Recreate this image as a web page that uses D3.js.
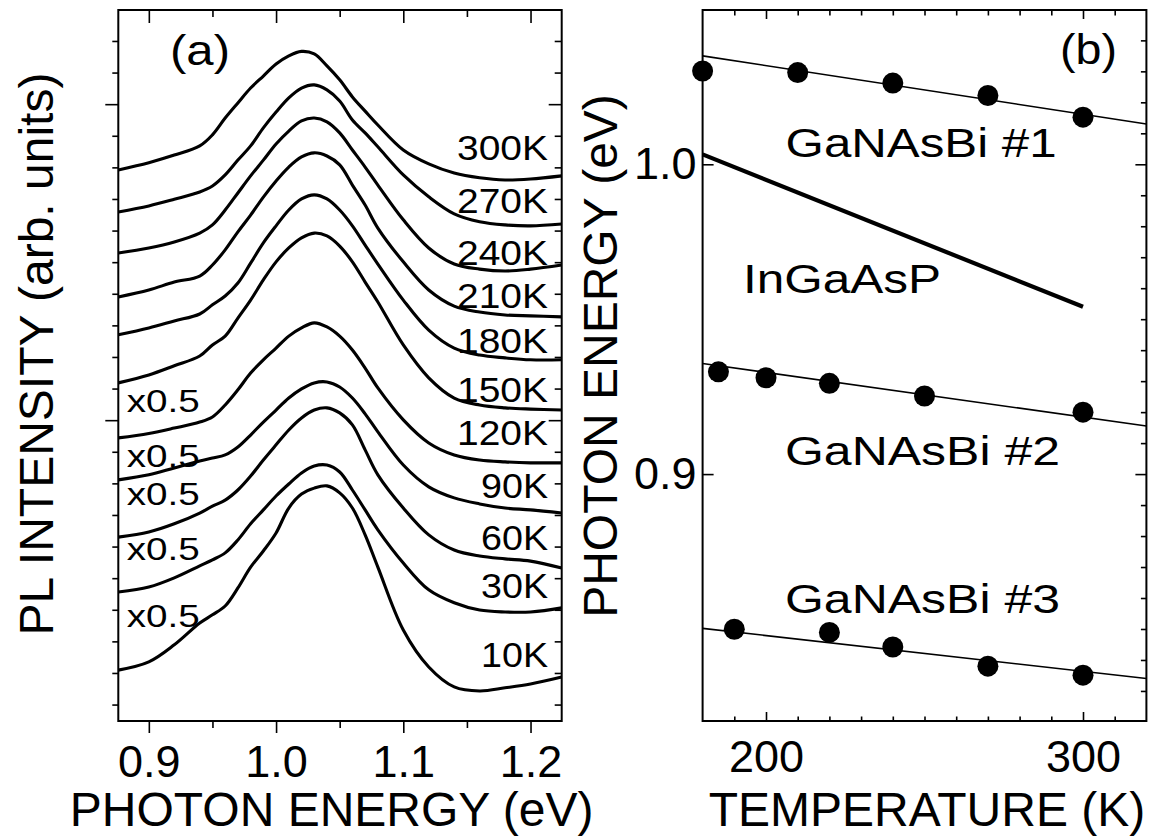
<!DOCTYPE html>
<html>
<head>
<meta charset="utf-8">
<script src="https://cdn.jsdelivr.net/npm/d3@7"></script>
<style>
  body { margin: 0; background: #fff; }
  text { font-family: "Liberation Sans", Arial, Helvetica, sans-serif; fill: #000; }
</style>
</head>
<body>
<svg id="chart" width="1159" height="837"></svg>
<script>
// (a) PL spectra, offset for clarity (arb. units)
var energy = [0.876, 0.90, 0.92, 0.94, 0.95, 0.96, 0.97, 0.98, 0.99, 1.00, 1.01, 1.02, 1.03,
              1.04, 1.05, 1.06, 1.07, 1.08, 1.10, 1.12, 1.14, 1.16, 1.18, 1.20, 1.2245];
var pl300K = [16.92,17.15,17.39,17.68,18.03,18.56,19.04,19.51,19.89,20.27,20.53,20.67,20.59,20.21,19.77,19.23,18.78,18.34,17.55,17.11,16.82,16.67,16.60,16.63,16.73];
var pl270K = [15.59,15.78,15.99,16.22,16.41,16.76,17.23,17.68,18.25,18.75,19.20,19.51,19.61,19.45,19.10,18.50,18.09,17.65,16.76,16.07,15.53,15.28,15.18,15.15,15.21];
var pl240K = [14.29,14.45,14.64,14.92,15.18,15.65,16.19,16.73,17.23,17.74,18.15,18.47,18.56,18.44,18.09,17.55,17.01,16.44,15.34,14.45,13.94,13.78,13.72,13.78,13.91];
var pl210K = [12.90,13.12,13.37,13.56,13.91,14.39,14.96,15.49,16.06,16.57,17.01,17.33,17.46,17.36,17.08,16.44,15.81,15.08,14.01,13.12,12.61,12.42,12.33,12.30,12.27];
var pl180K = [11.70,11.92,12.14,12.36,12.65,12.93,13.34,13.97,14.61,15.15,15.65,16.00,16.13,16.00,15.65,15.15,14.54,13.94,12.80,11.85,11.28,11.06,10.97,10.91,10.91];
var pl150K = [10.18,10.43,10.72,11.03,11.38,11.66,12.23,12.80,13.44,14.01,14.45,14.77,14.92,14.83,14.51,14.01,13.37,12.74,11.38,10.34,9.70,9.48,9.39,9.35,9.32];
var pl120K = [8.44,8.58,8.75,8.94,9.10,9.48,9.96,10.49,10.91,11.28,11.66,11.92,12.08,11.95,11.66,11.22,10.65,10.02,9.01,8.28,7.90,7.74,7.68,7.65,7.65];
var pl90K  = [7.11,7.27,7.49,7.71,7.80,7.90,8.15,8.53,8.94,9.32,9.70,9.99,10.18,10.21,10.05,9.70,9.20,8.63,7.58,6.89,6.54,6.35,6.22,6.16,6.06];
var pl60K  = [5.30,5.46,5.72,6.06,6.28,6.47,6.79,7.23,7.74,8.22,8.69,9.07,9.32,9.39,9.23,8.85,8.06,7.27,6.22,5.37,4.89,4.70,4.61,4.54,4.32];
var pl30K  = [3.56,3.72,4.01,4.39,4.58,4.80,5.21,5.72,6.16,6.60,6.98,7.33,7.55,7.58,7.36,6.79,6.16,5.53,4.48,3.63,3.22,2.99,2.93,2.93,3.06];
var pl10K  = [1.09,1.35,1.89,2.58,2.84,3.12,3.69,4.35,4.86,5.43,6.22,6.66,6.85,6.92,6.70,6.22,5.37,4.35,2.36,1.19,0.56,0.43,0.53,0.65,0.87];
var spectra = [pl300K, pl270K, pl240K, pl210K, pl180K, pl150K, pl120K, pl90K, pl60K, pl30K, pl10K];
var tempLabels = ['300K','270K','240K','210K','180K','150K','120K','90K','60K','30K','10K'];
var halved = [false,false,false,false,false,false,true,true,true,true,true];

var energyTicks = [0.9, 1.0, 1.1, 1.2];
var energyMinor = [0.95, 1.05, 1.15];

// (b) peak energy vs temperature
var tempB1 = [180, 210, 240, 270, 300];
var peakB1 = [1.0301, 1.0296, 1.0262, 1.0222, 1.0152];
var tempB2 = [185, 200, 220, 250, 300];
var peakB2 = [0.9330, 0.9311, 0.9293, 0.9252, 0.9200];
var tempB3 = [190, 220, 240, 270, 300];
var peakB3 = [0.8499, 0.8489, 0.8442, 0.8380, 0.8351];
var fitT = [180, 320];
var fitB1 = [1.0350, 1.0130];
var fitB2 = [0.9357, 0.9155];
var fitB3 = [0.8502, 0.8340];
var inGaAsPT = [180, 300];
var inGaAsPE = [1.0032, 0.9540];
var sampleNames = ['GaNAsBi #1', 'InGaAsP', 'GaNAsBi #2', 'GaNAsBi #3'];
var tempTicks = [200, 300];
var peakTicks = [0.9, 1.0];

var svg = d3.select('#chart');
var plotTop = 10, plotBottom = 721;

var xA = d3.scaleLinear().domain([0.876, 1.2245]).range([118.3, 561.7]);
var yA = d3.scaleLinear().domain([-0.52, 21.98]).range([plotBottom, plotTop]);
var xB = d3.scaleLinear().domain([180, 320]).range([702.6, 1146.4]);
var yB = d3.scaleLinear().domain([0.8203, 1.0498]).range([plotBottom, plotTop]);

function drawAxis(axis, tx, ty, fontSize) {
  var g = svg.append('g')
    .attr('transform', 'translate(' + tx + ',' + ty + ')')
    .call(axis);
  g.select('.domain').remove();
  g.selectAll('.tick line').attr('stroke', '#000').attr('stroke-width', 1.6);
  g.selectAll('.tick text')
    .style('font-family', '"Liberation Sans", Arial, sans-serif')
    .style('font-size', (fontSize || 45) + 'px')
    .attr('fill', '#000');
  return g;
}

function frame(x) {
  svg.append('rect')
    .attr('x', x.range()[0]).attr('y', plotTop)
    .attr('width', x.range()[1] - x.range()[0]).attr('height', plotBottom - plotTop)
    .attr('fill', 'none').attr('stroke', '#000').attr('stroke-width', 2);
}

function label(txt, x, y, size, len, anchor) {
  var t = svg.append('text')
    .attr('x', x).attr('y', y)
    .style('font-size', size + 'px')
    .attr('text-anchor', anchor || 'start')
    .text(txt);
  if (len) t.attr('textLength', len).attr('lengthAdjust', 'spacingAndGlyphs');
  return t;
}

// ---------- panel (a) ----------
var minorA = d3.range(0, 22).filter(function(v) { return v != 9 && v != 19; });

drawAxis(d3.axisBottom(xA).tickValues(energyTicks).tickSize(12).tickPadding(12)
  .tickFormat(d3.format('.1f')), 0, plotBottom, 45);
drawAxis(d3.axisBottom(xA).tickValues(energyMinor).tickSize(7).tickFormat(''), 0, plotBottom);
drawAxis(d3.axisTop(xA).tickValues(energyTicks).tickSize(-13).tickFormat(''), 0, plotTop);
drawAxis(d3.axisTop(xA).tickValues(energyMinor).tickSize(-7).tickFormat(''), 0, plotTop);
drawAxis(d3.axisLeft(yA).tickValues([9, 19]).tickSize(13).tickFormat(''), xA.range()[0], 0);
drawAxis(d3.axisLeft(yA).tickValues(minorA).tickSize(6).tickFormat(''), xA.range()[0], 0);
drawAxis(d3.axisRight(yA).tickValues([9, 19]).tickSize(-13).tickFormat(''), xA.range()[1], 0);
drawAxis(d3.axisRight(yA).tickValues(minorA).tickSize(-7).tickFormat(''), xA.range()[1], 0);

var specLine = d3.line()
  .x(function(d) { return xA(d[0]); })
  .y(function(d) { return yA(d[1]); })
  .curve(d3.curveCatmullRom);

svg.append('g').selectAll('path')
  .data(spectra)
  .enter().append('path')
  .attr('d', function(s) { return specLine(d3.zip(energy, s)); })
  .attr('fill', 'none')
  .attr('stroke', '#000')
  .attr('stroke-width', 3.1)
  .attr('stroke-linejoin', 'round');

frame(xA);

// temperature labels, right aligned
var tempLabelY = [160, 213, 265, 308, 353, 402, 445, 498, 550, 598, 667];
tempLabels.forEach(function(t, i) {
  label(t, 548, tempLabelY[i], 35, t.length == 4 ? 91 : 67, 'end');
});
// scaling labels
var halfY = [411.7, 466.7, 505, 560, 626.7];
halved.filter(function(h) { return h; }).forEach(function(h, i) {
  label('x0.5', 126.7, halfY[i], 32, 73);
});
label('(a)', 170, 65, 42, 60);

svg.append('text')
  .attr('x', xA(1.05) - 8).attr('y', 826)
  .attr('text-anchor', 'middle')
  .style('font-size', '48px')
  .text('PHOTON ENERGY (eV)');
svg.append('text')
  .attr('transform', 'translate(53,354) rotate(-90)')
  .attr('text-anchor', 'middle')
  .style('font-size', '48px')
  .text('PL INTENSITY (arb. units)');

// ---------- panel (b) ----------
var minorT = d3.range(190, 320, 10).filter(function(v) { return v != 200 && v != 300; });
var minorE = d3.range(83, 105).map(function(v) { return v / 100; })
  .filter(function(v) { return Math.abs(v - 0.9) > 1e-6 && Math.abs(v - 1.0) > 1e-6; });

drawAxis(d3.axisBottom(xB).tickValues(tempTicks).tickSize(-9).tickPadding(19)
  .tickFormat(d3.format('d')), 0, plotBottom, 45);
drawAxis(d3.axisBottom(xB).tickValues(minorT).tickSize(-4.5).tickFormat(''), 0, plotBottom);
drawAxis(d3.axisTop(xB).tickValues(tempTicks).tickSize(-9).tickFormat(''), 0, plotTop);
drawAxis(d3.axisTop(xB).tickValues(minorT).tickSize(-5.5).tickFormat(''), 0, plotTop);
drawAxis(d3.axisLeft(yB).tickValues(peakTicks).tickSize(-11).tickPadding(6)
  .tickFormat(d3.format('.1f')), xB.range()[0], 0, 45);
drawAxis(d3.axisRight(yB).tickValues(peakTicks).tickSize(-11).tickFormat(''), xB.range()[1], 0);
drawAxis(d3.axisRight(yB).tickValues(minorE).tickSize(-5.5).tickFormat(''), xB.range()[1], 0);

var lineB = d3.line()
  .x(function(d) { return xB(d[0]); })
  .y(function(d) { return yB(d[1]); });

[fitB1, fitB2, fitB3].forEach(function(f) {
  svg.append('path')
    .attr('d', lineB(d3.zip(fitT, f)))
    .attr('fill', 'none').attr('stroke', '#000').attr('stroke-width', 1.6);
});
svg.append('path')
  .attr('d', lineB(d3.zip(inGaAsPT, inGaAsPE)))
  .attr('fill', 'none').attr('stroke', '#000').attr('stroke-width', 4.2);

[[tempB1, peakB1], [tempB2, peakB2], [tempB3, peakB3]].forEach(function(s) {
  svg.append('g').selectAll('circle')
    .data(d3.zip(s[0], s[1]))
    .enter().append('circle')
    .attr('cx', function(d) { return xB(d[0]); })
    .attr('cy', function(d) { return yB(d[1]); })
    .attr('r', 10.5)
    .attr('fill', '#000');
});

frame(xB);

label(sampleNames[0], 785.6, 157, 40, 271);
label(sampleNames[1], 743, 293, 40, 198);
label(sampleNames[2], 785, 465, 40, 275);
label(sampleNames[3], 785, 613, 40, 275);
label('(b)', 1060, 64, 42, 57);

svg.append('text')
  .attr('x', 927).attr('y', 826)
  .attr('text-anchor', 'middle')
  .style('font-size', '48px')
  .text('TEMPERATURE (K)');
svg.append('text')
  .attr('transform', 'translate(617,356) rotate(-90)')
  .attr('text-anchor', 'middle')
  .style('font-size', '48px')
  .text('PHOTON ENERGY (eV)');
</script>
</body>
</html>
